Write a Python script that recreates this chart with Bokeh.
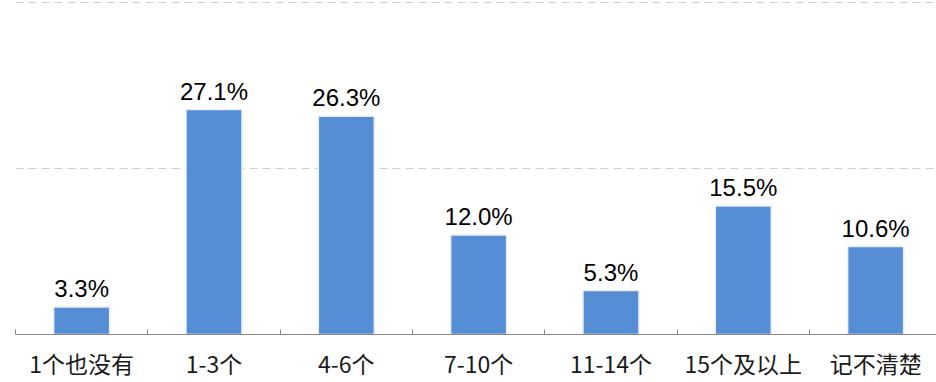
from bokeh.plotting import figure
from bokeh.models import ColumnDataSource, Range1d, FixedTicker, LabelSet
from bokeh.core.properties import value
from bokeh.embed import file_html
from bokeh.resources import INLINE

categories = ["1个也没有", "1-3个", "4-6个", "7-10个", "11-14个", "15个及以上", "记不清楚"]
values = [3.3, 27.1, 26.3, 12.0, 5.3, 15.5, 10.6]
labels = [f"{v:.1f}%" for v in values]

xs = list(range(len(categories)))
src = ColumnDataSource(dict(x=xs, top=values, label=labels))

p = figure(width=936, height=382, output_backend="svg", toolbar_location=None,
           x_range=Range1d(-0.5, 6.46), y_range=Range1d(0, 40.25),
           min_border_left=15, min_border_right=0, min_border_top=0, min_border_bottom=0)
p.outline_line_color = None
p.background_fill_color = "white"
p.border_fill_color = "white"

p.vbar(x="x", top="top", width=0.423, source=src, fill_color="#558ED5",
       line_color="#E8EEF7", line_width=1.5)

p.add_layout(LabelSet(x="x", y="top", text="label", source=src, text_align="center",
                      text_baseline="bottom", y_offset=5, text_font=value("Liberation Sans"),
                      text_font_size="24px", text_color="#000000"))

p.yaxis.visible = False
p.ygrid.ticker = FixedTicker(ticks=[20, 40])
p.ygrid.grid_line_color = "#CFCFCF"
p.ygrid.grid_line_dash = "8 5"
p.ygrid.grid_line_width = 1
p.xgrid.visible = False

ax = p.xaxis[0]
ax.ticker = FixedTicker(ticks=xs, minor_ticks=[i - 0.5 for i in range(len(categories) + 1)])
ax.major_label_overrides = {i: c for i, c in zip(xs, categories)}
ax.major_tick_line_color = None
ax.minor_tick_in = 5
ax.minor_tick_out = 0
ax.minor_tick_line_color = "#888888"
ax.axis_line_color = "#888888"
ax.axis_line_width = 1.2
ax.major_label_text_font = "Noto Sans CJK SC"
ax.major_label_text_font_size = "23px"
ax.major_label_text_color = "#1a1a1a"
ax.major_label_standoff = 5

open("out.html", "w").write(file_html(p, INLINE))
